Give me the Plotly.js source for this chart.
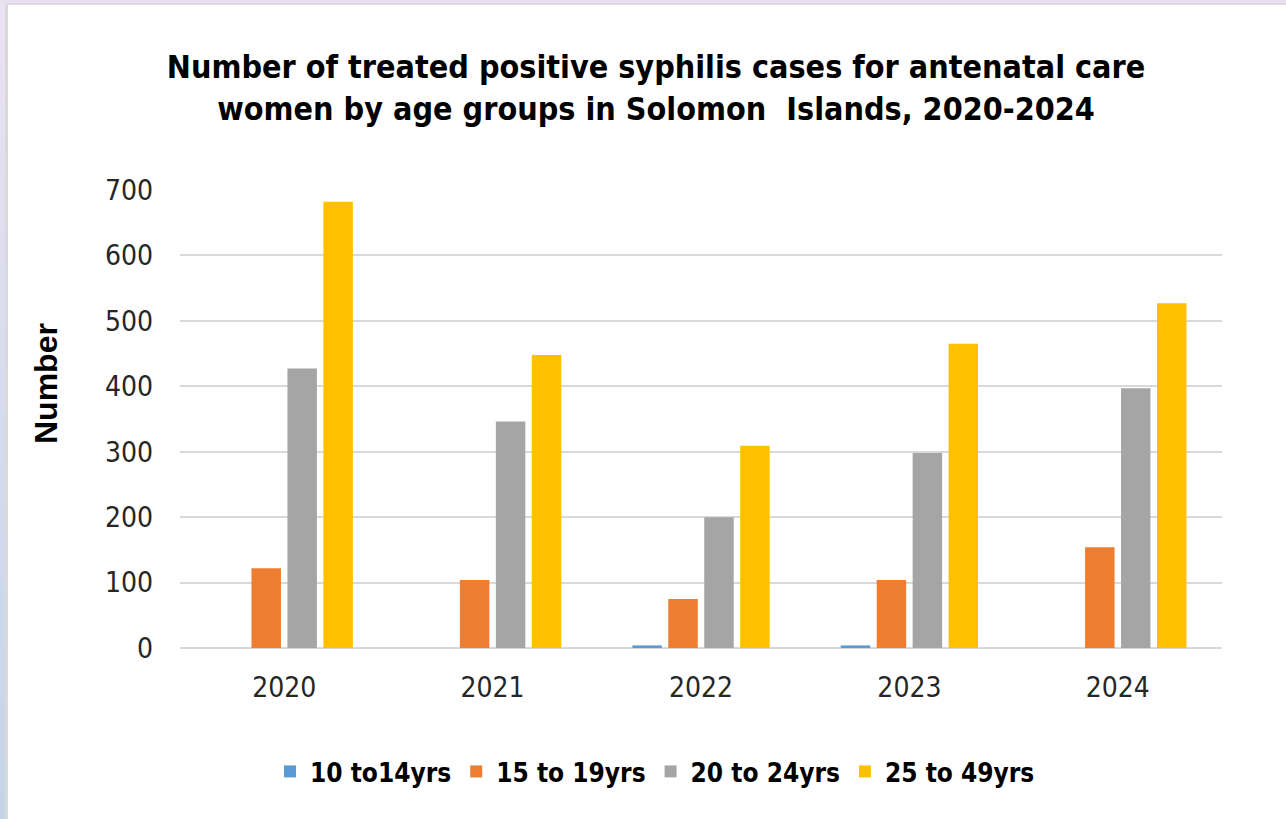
<!DOCTYPE html>
<html>
<head>
<meta charset="utf-8">
<script src="https://cdn.plot.ly/plotly-3.0.1.min.js"></script>
<style>
  html, body { margin: 0; padding: 0; background: #ffffff; }
  #wrap { position: relative; width: 1286px; height: 819px; background: #ffffff; overflow: hidden; }
  #edgeL { position: absolute; left: 0; top: 0; width: 5px; height: 819px; background: linear-gradient(#ebe2f4, #c3d4ea); }
  #edgeT { position: absolute; left: 0; top: 0; width: 1286px; height: 3px; background: #e9e0f1; }
  #grayL { position: absolute; left: 5px; top: 3px; width: 3px; height: 816px; background: #d9d9d9; }
  #grayT { position: absolute; left: 5px; top: 3px; width: 1281px; height: 2px; background: #dcdcdc; }
  #chart { position: absolute; left: 0; top: 0; width: 1286px; height: 819px; }
</style>
</head>
<body>
<div id="wrap">
  <div id="edgeL"></div><div id="edgeT"></div><div id="grayL"></div><div id="grayT"></div>
  <div id="chart"></div>
</div>
<script>
const years = ['2020', '2021', '2022', '2023', '2024'];
const seriesNames = ['10 to14yrs', '15 to 19yrs', '20 to 24yrs', '25 to 49yrs'];
const age10to14 = [0, 0, 4, 4, 0];
const age15to19 = [122, 104, 75, 104, 154];
const age20to24 = [427, 346, 200, 298, 397];
const age25to49 = [682, 448, 309, 465, 527];
const yTicks = [0, 100, 200, 300, 400, 500, 600, 700];
const yTitle = 'Number';

const colors = ['#5B9BD5', '#ED7D31', '#A5A5A5', '#FFC000'];
const seriesValues = [age10to14, age15to19, age20to24, age25to49];

const narrow = '"Liberation Sans Narrow", "Arial Narrow", "DejaVu Sans Condensed", sans-serif';

const traces = seriesValues.map((vals, i) => ({
  type: 'bar',
  name: seriesNames[i],
  x: years,
  y: vals,
  marker: { color: colors[i], line: { width: 0 } },
  hoverinfo: 'x+y+name'
}));

const layout = {
  width: 1286,
  height: 819,
  paper_bgcolor: 'rgba(0,0,0,0)',
  plot_bgcolor: 'rgba(0,0,0,0)',
  margin: { l: 180, r: 64, t: 190, b: 171 },
  barmode: 'group',
  bargap: 0.31,
  bargroupgap: 0.18,
  title: {
    text: 'Number of treated positive syphilis cases for antenatal care<br>women by age groups in Solomon  Islands, 2020-2024',
    font: { family: narrow, size: 32, color: '#000000', weight: 'bold' },
    x: 656 / 1286, xanchor: 'center', xref: 'container',
    y: 1 - 78 / 819, yanchor: 'top', yref: 'container'
  },
  xaxis: {
    type: 'category',
    showgrid: false,
    showline: false,
    zeroline: false,
    ticks: '',
    tickfont: { family: narrow, size: 28, color: '#262626' },
    ticklabelstandoff: 20
  },
  yaxis: {
    range: [0, 700],
    tickvals: yTicks,
    ticktext: yTicks.map(String),
    showgrid: true,
    gridcolor: '#d9d9d9',
    gridwidth: 2,
    zeroline: true,
    zerolinecolor: '#d9d9d9',
    zerolinewidth: 2,
    showline: false,
    ticks: '',
    tickfont: { family: narrow, size: 28, color: '#262626' },
    ticklabelstandoff: 26
  },
  annotations: [{
    text: yTitle,
    textangle: -90,
    xref: 'paper', yref: 'paper',
    x: (46 - 180) / 1042, y: (648 - 384) / 458,
    xanchor: 'center', yanchor: 'middle',
    showarrow: false,
    font: { family: '"Liberation Sans", Arial, sans-serif', size: 32, color: '#000000', weight: 'bold' }
  }],
  showlegend: true,
  legend: {
    orientation: 'h',
    x: (270 - 180) / 1042,
    xanchor: 'left',
    y: (648 - 748) / 458,
    yanchor: 'top',
    font: { family: narrow, size: 26, color: '#000000', weight: 'bold' },
    bgcolor: 'rgba(0,0,0,0)',
    itemwidth: 30,
    traceorder: 'normal'
  }
};

Plotly.newPlot('chart', traces, layout, { displayModeBar: false, staticPlot: true });
</script>
</body>
</html>
